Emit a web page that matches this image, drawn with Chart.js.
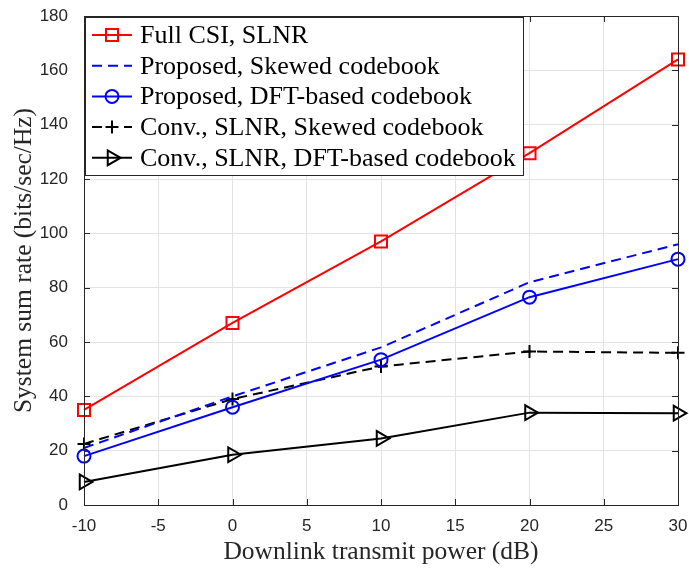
<!DOCTYPE html>
<html>
<head>
<meta charset="utf-8">
<script src="https://cdn.jsdelivr.net/npm/chart.js@4"></script>
<style>
  body { margin: 0; background: #fff; }
  #wrap { width: 689px; height: 569px; }
</style>
</head>
<body>
<div id="wrap"><canvas id="rateChart" width="689" height="569"></canvas></div>
<script>
const powerDb = [-10, 0, 10, 20, 30];
const fullCsi = [35, 67, 97, 129.5, 164];
const propSkewed = [21, 40, 58, 82, 96];
const propDft = [18, 36, 53.5, 76.5, 90.5];
const convSkewed = [22.5, 39, 51, 56.5, 56];
const convDft = [8.5, 18.5, 24.5, 34, 33.8];
const xTicks = [-10, -5, 0, 5, 10, 15, 20, 25, 30];
const yTicks = [0, 20, 40, 60, 80, 100, 120, 140, 160, 180];

const legendNames = [
    'Full CSI, SLNR',
    'Proposed, Skewed codebook',
    'Proposed, DFT-based codebook',
    'Conv., SLNR, Skewed codebook',
    'Conv., SLNR, DFT-based codebook'
];

function pts(ys) {
    return powerDb.map((x, i) => ({ x: x, y: ys[i] }));
}

function series(label, ys, color, style, radius, extra) {
    return Object.assign({
        label: label,
        data: pts(ys),
        borderColor: color,
        borderWidth: 2,
        pointStyle: style,
        pointRadius: radius,
        pointBorderColor: color,
        pointBorderWidth: 2,
        pointBackgroundColor: 'rgba(0,0,0,0)',
        pointHoverRadius: radius,
        tension: 0,
        clip: false
    }, extra || {});
}

const datasets = [
    series(legendNames[0], fullCsi, '#ff0000', 'rect', 8.5),
    series(legendNames[1], propSkewed, '#0000ff', false, 0, { borderDash: [10, 6] }),
    series(legendNames[2], propDft, '#0000ff', 'circle', 6.5),
    series(legendNames[3], convSkewed, '#000000', 'cross', 6.5, { borderDash: [10, 6] }),
    series(legendNames[4], convDft, '#000000', 'triangle', 8.5, { pointRotation: 90 })
];

// inward tick marks on all four sides, like the original box axes
const boxTicks = {
    id: 'boxTicks',
    afterDatasetsDraw(chart) {
        const ctx = chart.ctx;
        const a = chart.chartArea;
        const xs = chart.scales.x, ys = chart.scales.y;
        const len = 6;
        ctx.save();
        ctx.strokeStyle = '#262626';
        ctx.lineWidth = 1;
        ctx.beginPath();
        xTicks.forEach(v => {
            const px = Math.round(xs.getPixelForValue(v)) + 0.5;
            ctx.moveTo(px, a.bottom); ctx.lineTo(px, a.bottom - len);
            ctx.moveTo(px, a.top); ctx.lineTo(px, a.top + len);
        });
        yTicks.forEach(v => {
            const py = Math.round(ys.getPixelForValue(v)) + 0.5;
            ctx.moveTo(a.left, py); ctx.lineTo(a.left + len, py);
            ctx.moveTo(a.right, py); ctx.lineTo(a.right - len, py);
        });
        ctx.stroke();
        ctx.strokeRect(a.left + 0.5, a.top + 0.5, a.right - a.left, a.bottom - a.top);
        ctx.restore();
    }
};

// MATLAB style legend box in the upper left corner
const boxLegend = {
    id: 'boxLegend',
    afterDraw(chart) {
        const ctx = chart.ctx;
        const a = chart.chartArea;
        const left = a.left + 1, top = a.top + 1;
        const w = 438, h = 158;
        ctx.save();
        ctx.fillStyle = '#ffffff';
        ctx.fillRect(left, top, w, h);
        ctx.strokeStyle = '#262626';
        ctx.lineWidth = 1;
        ctx.strokeRect(left + 0.5, top + 0.5, w, h);
        ctx.font = '26px "Liberation Serif", "Times New Roman", serif';
        ctx.textBaseline = 'middle';
        chart.data.datasets.forEach((ds, i) => {
            const cy = top + 18 + i * 30.7;
            ctx.strokeStyle = ds.borderColor;
            ctx.lineWidth = 2;
            ctx.setLineDash(ds.borderDash || []);
            ctx.beginPath();
            ctx.moveTo(left + 7, cy);
            ctx.lineTo(left + 47, cy);
            ctx.stroke();
            ctx.setLineDash([]);
            if (ds.pointStyle) {
                ctx.fillStyle = 'rgba(0,0,0,0)';
                Chart.helpers.drawPoint(ctx, {
                    pointStyle: ds.pointStyle,
                    radius: ds.pointRadius,
                    rotation: ds.pointRotation || 0,
                    borderWidth: 2
                }, left + 27, cy);
            }
            ctx.fillStyle = '#000000';
            ctx.fillText(ds.label, left + 55, cy + 1);
        });
        ctx.restore();
    }
};

const serif = { family: '"Liberation Serif", "Times New Roman", serif', size: 25.5 };
const sans = { family: '"Liberation Sans", Arial, sans-serif', size: 17 };

function noEdgePad(s) {
    s.paddingLeft = 0;
    s.paddingRight = 0;
    s.paddingTop = 0;
    s.paddingBottom = 0;
}

new Chart(document.getElementById('rateChart'), {
    type: 'line',
    data: { datasets: datasets },
    plugins: [boxTicks, boxLegend],
    options: {
        responsive: false,
        animation: false,
        layout: { padding: { top: 16, right: 11, left: 0, bottom: 0 } },
        plugins: {
            legend: { display: false },
            tooltip: { enabled: false }
        },
        scales: {
            x: {
                type: 'linear',
                min: -10,
                max: 30,
                afterBuildTicks: s => { s.ticks = xTicks.map(v => ({ value: v })); },
                afterFit: s => { s.height = 64; noEdgePad(s); },
                grid: { color: '#e3e3e3', drawTicks: false },
                border: { display: false },
                ticks: { font: sans, color: '#262626', padding: 11, maxRotation: 0 },
                title: { display: true, text: 'Downlink transmit power (dB)', font: serif, color: '#262626', padding: { top: 0, bottom: 1 } }
            },
            y: {
                type: 'linear',
                min: 0,
                max: 180,
                afterBuildTicks: s => { s.ticks = yTicks.map(v => ({ value: v })); },
                afterFit: s => { s.width = 84; noEdgePad(s); },
                grid: { color: '#e3e3e3', drawTicks: false },
                border: { display: false },
                ticks: { font: sans, color: '#262626', padding: 16 },
                title: { display: true, text: 'System sum rate (bits/sec/Hz)', font: serif, color: '#262626', padding: { top: 9, bottom: 0 } }
            }
        }
    }
});
</script>
</body>
</html>
